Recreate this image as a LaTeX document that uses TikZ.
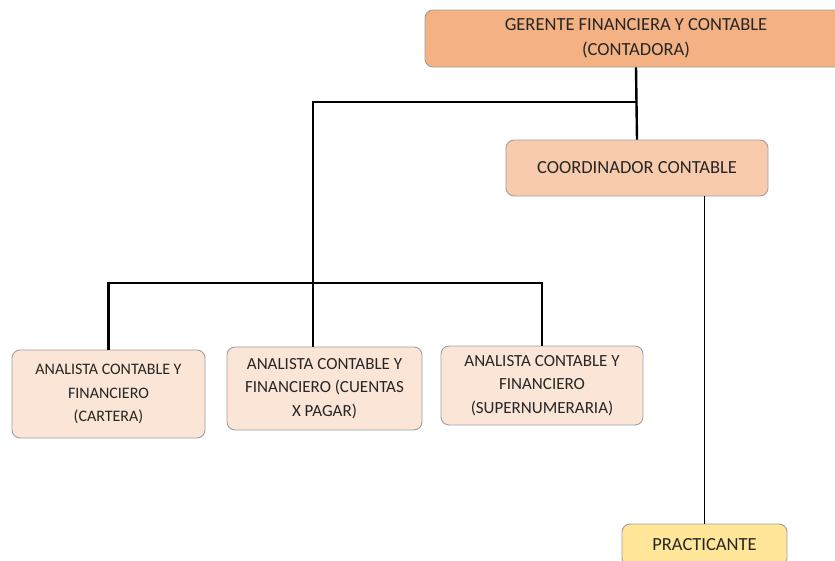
\documentclass[tikz,border=0pt]{standalone}
\usepackage{fontspec}
\setmainfont{Carlito}
\usepackage{tikz}
\usetikzlibrary{positioning}

\definecolor{gerfill}{HTML}{F4B183}
\definecolor{coordfill}{HTML}{F8CBAD}
\definecolor{anfill}{HTML}{FBE5D6}
\definecolor{pracfill}{HTML}{FFE699}
\definecolor{txtgray}{HTML}{262626}

\begin{document}
\begin{tikzpicture}[x=1pt,y=-1pt,
      box_base/.style={
         rectangle,
         rounded corners=8pt,
         draw=gray!75,
         line width=0.9pt,
         align=center,
         inner sep=0pt,
         text=txtgray},
      box_top/.style={
         box_base,
         fill=gerfill,
         font=\fontsize{18.5}{25}\selectfont},
      box_coord/.style={
         box_base,
         fill=coordfill,
         font=\fontsize{18.5}{24}\selectfont},
      box_an/.style={
         box_base,
         fill=anfill,
         font=\fontsize{17}{23.5}\selectfont},
      box_prac/.style={
         box_base,
         fill=pracfill,
         font=\fontsize{18.5}{24}\selectfont},
      line_thick/.style={
         draw=black,
         line width=2.4pt},
      line_thin/.style={
         draw=black,
         line width=1.1pt}
]
      \clip (0,0) rectangle (835,560);
      \fill[white] (0,0) rectangle (835,560);

      %top
      \node[box_top,minimum width=422pt,minimum height=57pt] (ger) at (636,38.5)
         {GERENTE FINANCIERA Y CONTABLE\\(CONTADORA)};
      \node[box_coord,minimum width=262pt,minimum height=56pt] (coord) at (637,168)
         {COORDINADOR CONTABLE};

      %analistas
      \node[box_an,minimum width=193pt,minimum height=88pt,font=\fontsize{16}{23.5}\selectfont] (an1) at (108.5,394)
         {ANALISTA CONTABLE Y\\FINANCIERO\\(CARTERA)};
      \node[box_an,minimum width=195pt,minimum height=83pt] (an2) at (324.5,388.5)
         {ANALISTA CONTABLE Y\\FINANCIERO (CUENTAS\\X PAGAR)};
      \node[box_an,minimum width=202pt,minimum height=79pt] (an3) at (542,385.5)
         {ANALISTA CONTABLE Y\\FINANCIERO\\(SUPERNUMERARIA)};

      \node[box_prac,minimum width=165pt,minimum height=42pt] (prac) at (704.5,545)
         {PRACTICANTE};

      %connectors
      \coordinate (j1) at (313,102);
      \coordinate (j2) at (313,283);
      \draw[line_thick] (ger.south) -- (coord.north);
      \draw[line_thick] (j1 -| ger.south) -- (j1) -- (j1 |- an2.north);
      \draw[line_thick] (an1.north) |- (j2) -| (an3.north);
      \draw[line_thin] (prac.north |- coord.south) -- (prac.north);

\end{tikzpicture}
\end{document}
